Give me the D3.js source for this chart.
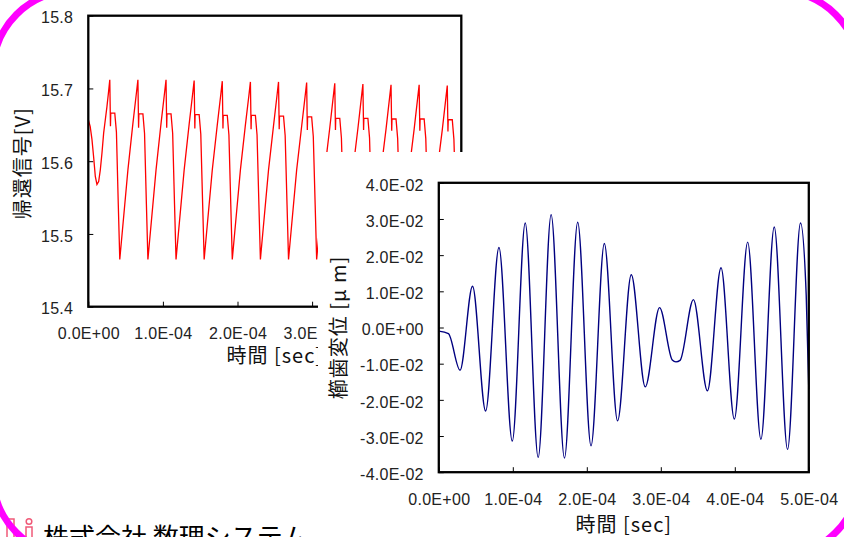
<!DOCTYPE html>
<html lang="ja">
<head>
<meta charset="UTF-8">
<title>帰還信号と櫛歯変位</title>
<script src="https://d3js.org/d3.v7.min.js"></script>
<style>
    body { margin: 0; background: #fff; }
    svg { display: block; }
    .tick text { font-family: "Liberation Sans", Arial, sans-serif; font-size: 16px; fill: #222; letter-spacing: 0.3px; }
    .title { font-family: "Noto Sans CJK JP", sans-serif; font-size: 20px; fill: #111; letter-spacing: 1px; }
</style>
</head>
<body>
<div id="chart"></div>
<script>
// time in microseconds, shown as seconds in tick labels
const timeTicks = [0, 100, 200, 300, 400, 500];
const timeLabels = ["0.0E+00", "1.0E-04", "2.0E-04", "3.0E-04", "4.0E-04", "5.0E-04"];

const voltTicks = [15.4, 15.5, 15.6, 15.7, 15.8];

const dispTicks = [-0.04, -0.03, -0.02, -0.01, 0, 0.01, 0.02, 0.03, 0.04];
const dispLabels = ["-4.0E-02", "-3.0E-02", "-2.0E-02", "-1.0E-02", "0.0E+00",
                    "1.0E-02", "2.0E-02", "3.0E-02", "4.0E-02"];

// feedback signal [time us, V]
const feedback = [
    [0, 15.657], [2.5, 15.648], [4.9, 15.630], [7.2, 15.605], [9.4, 15.579], [11.6, 15.568],
    [13.9, 15.572], [16.1, 15.588], [18.3, 15.611], [20.6, 15.639], [22.8, 15.657], [25.0, 15.675],
    [27.0, 15.694], [28.8, 15.712], [29.7, 15.648], [30.1, 15.666], [35.5, 15.666], [37.7, 15.640],
    [40.2, 15.540], [42.2, 15.465],
    [53.1, 15.588], [59.8, 15.652], [64.3, 15.692], [66.5, 15.712], [67.4, 15.646], [67.8, 15.665],
    [73.2, 15.665], [75.4, 15.638], [77.9, 15.540], [79.9, 15.465],
    [90.8, 15.588], [97.5, 15.652], [102.0, 15.692], [104.2, 15.712], [105.1, 15.646], [105.5, 15.665],
    [110.9, 15.665], [113.1, 15.638], [115.6, 15.540], [117.6, 15.465],
    [128.5, 15.588], [135.2, 15.651], [139.7, 15.691], [141.9, 15.711], [142.8, 15.645], [143.2, 15.664],
    [148.6, 15.664], [150.8, 15.637], [153.3, 15.540], [155.3, 15.465],
    [166.2, 15.588], [172.9, 15.650], [177.4, 15.690], [179.6, 15.710], [180.5, 15.645], [180.9, 15.663],
    [186.3, 15.663], [188.5, 15.636], [191.0, 15.540], [193.0, 15.465],
    [203.9, 15.588], [210.6, 15.650], [215.1, 15.689], [217.3, 15.709], [218.2, 15.644], [218.6, 15.663],
    [224.0, 15.663], [226.2, 15.636], [228.7, 15.540], [230.7, 15.465],
    [241.6, 15.588], [248.3, 15.649], [252.8, 15.689], [255.0, 15.709], [255.9, 15.644], [256.3, 15.662],
    [261.7, 15.662], [263.9, 15.635], [266.4, 15.540], [268.4, 15.465],
    [279.3, 15.588], [286.0, 15.648], [290.5, 15.688], [292.7, 15.708], [293.6, 15.643], [294.0, 15.661],
    [299.4, 15.661], [301.6, 15.634], [304.1, 15.540], [306.1, 15.465],
    [317.0, 15.588], [323.7, 15.646], [328.2, 15.687], [330.4, 15.707], [331.3, 15.643], [331.7, 15.659],
    [337.1, 15.659], [339.3, 15.632], [341.8, 15.540], [343.8, 15.465],
    [354.7, 15.588], [361.4, 15.645], [365.9, 15.686], [368.1, 15.706], [369.0, 15.643], [369.4, 15.659],
    [374.8, 15.659], [377.0, 15.632], [379.5, 15.540], [381.5, 15.465],
    [392.4, 15.588], [399.1, 15.644], [403.6, 15.685], [405.8, 15.705], [406.7, 15.642], [407.1, 15.658],
    [412.5, 15.658], [414.7, 15.631], [417.2, 15.540], [419.2, 15.465],
    [430.1, 15.588], [436.8, 15.644], [441.3, 15.685], [443.5, 15.705], [444.4, 15.642], [444.8, 15.658],
    [450.2, 15.658], [452.4, 15.631], [454.9, 15.540], [456.9, 15.465],
    [467.8, 15.588], [474.5, 15.643], [479.0, 15.684], [481.2, 15.704], [482.1, 15.641], [482.5, 15.657],
    [487.9, 15.657], [490.1, 15.630], [492.6, 15.540], [494.6, 15.465],
    [500, 15.520]
];

// comb tooth displacement [time us, um] (peaks and troughs)
const displacement = [
    [0, -0.0010], [13, -0.0017], [28.7, -0.0118], [45.6, 0.0114], [63.3, -0.0231], [81.3, 0.0221],
    [99.3, -0.0314], [116.8, 0.0289], [134.3, -0.0359], [151.8, 0.0312], [169.8, -0.0361],
    [187.7, 0.0291], [205.7, -0.0327], [223.7, 0.0232], [241.6, -0.0258], [260.1, 0.0146],
    [279.0, -0.0164], [298.3, 0.0055], [315.5, -0.0090], [320.5, -0.0095], [326.0, -0.0091],
    [344.1, 0.0077], [363.0, -0.0175], [381.4, 0.0165], [399.4, -0.0253], [417.4, 0.0236],
    [435.3, -0.0309], [453.3, 0.0278], [471.3, -0.0337], [488.8, 0.0289], [496.5, 0.0090],
    [500, -0.0170]
];

const W = 844, H = 537;
const svg = d3.select("#chart").append("svg")
    .attr("width", W)
    .attr("height", H);

// where the second chart is pasted over the first one
const cover = {x: 318, y: 152};

// ---------- left chart: feedback signal ----------
const p1 = {left: 88.3, right: 461.3, top: 15.7, bottom: 306.7};
const x1 = d3.scaleLinear().domain([0, 500]).range([p1.left, p1.right]);
const y1 = d3.scaleLinear().domain([15.4, 15.8]).range([p1.bottom, p1.top]);

const g1 = svg.append("g");

g1.append("g")
    .attr("transform", `translate(${p1.left},0)`)
    .call(d3.axisLeft(y1).tickValues(voltTicks).tickFormat(d3.format(".1f"))
        .tickSize(-5).tickPadding(15))
    .call(g => g.select(".domain").remove())
    .call(g => g.selectAll(".tick text").attr("dy", "0.45em"));

g1.append("g")
    .attr("transform", `translate(0,${p1.bottom})`)
    .call(d3.axisBottom(x1).tickValues(timeTicks).tickFormat((d, i) => timeLabels[i])
        .tickSize(-5).tickPadding(21))
    .call(g => g.select(".domain").remove())
    // labels that sit fully under the pasted chart are not drawn
    .call(g => g.selectAll(".tick text").filter(d => x1(d) - 30 > cover.x).remove());

g1.append("path")
    .datum(feedback)
    .attr("fill", "none")
    .attr("stroke", "#ff0000")
    .attr("stroke-width", 1.3)
    .attr("d", d3.line().x(d => x1(d[0])).y(d => y1(d[1])));

g1.append("rect")
    .attr("x", p1.left).attr("y", p1.top)
    .attr("width", p1.right - p1.left).attr("height", p1.bottom - p1.top)
    .attr("fill", "none").attr("stroke", "#000").attr("stroke-width", 2.3);

g1.append("text")
    .attr("class", "title")
    .attr("x", (p1.left + p1.right) / 2)
    .attr("y", 363)
    .attr("text-anchor", "middle")
    .text("時間 [sec]");

g1.append("text")
    .attr("class", "title")
    .attr("transform", `translate(30,${(p1.top + p1.bottom) / 2 + 2}) rotate(-90)`)
    .attr("text-anchor", "middle")
    .text("帰還信号[V]");

svg.append("rect")
    .attr("x", cover.x).attr("y", cover.y)
    .attr("width", W - cover.x).attr("height", H - cover.y)
    .attr("fill", "#fff");

// ---------- right chart: comb displacement ----------
const p2 = {left: 438.8, right: 808.8, top: 182.8, bottom: 472.2};
const x2 = d3.scaleLinear().domain([0, 500]).range([p2.left, p2.right]);
const y2 = d3.scaleLinear().domain([-0.04, 0.04]).range([p2.bottom, p2.top]);

const g2 = svg.append("g");

g2.append("g")
    .attr("transform", `translate(${p2.left},0)`)
    .call(d3.axisLeft(y2).tickValues(dispTicks).tickFormat((d, i) => dispLabels[i])
        .tickSize(-5).tickPadding(15))
    .call(g => g.select(".domain").remove())
    .call(g => g.selectAll(".tick text").attr("dy", "0.45em"));

g2.append("g")
    .attr("transform", `translate(0,${p2.bottom})`)
    .call(d3.axisBottom(x2).tickValues(timeTicks).tickFormat((d, i) => timeLabels[i])
        .tickSize(-5).tickPadding(21))
    .call(g => g.select(".domain").remove());

g2.append("path")
    .datum(displacement)
    .attr("fill", "none")
    .attr("stroke", "#000080")
    .attr("stroke-width", 1.4)
    .attr("d", d3.line().curve(d3.curveMonotoneX).x(d => x2(d[0])).y(d => y2(d[1])));

g2.append("rect")
    .attr("x", p2.left).attr("y", p2.top)
    .attr("width", p2.right - p2.left).attr("height", p2.bottom - p2.top)
    .attr("fill", "none").attr("stroke", "#000").attr("stroke-width", 2.3);

g2.append("text")
    .attr("class", "title")
    .attr("x", (p2.left + p2.right) / 2)
    .attr("y", 532)
    .attr("text-anchor", "middle")
    .text("時間 [sec]");

g2.append("text")
    .attr("class", "title")
    .attr("transform", `translate(346,${(p2.top + p2.bottom) / 2}) rotate(-90)`)
    .attr("text-anchor", "middle")
    .text("櫛歯変位 [μ m]");

// ---------- company footer (cut by the page edge) ----------
const logo = svg.append("g").attr("fill", "none").attr("stroke", "#f05a78").attr("stroke-width", 1.5);
logo.append("rect").attr("x", 7).attr("y", 519).attr("width", 7).attr("height", 24);
logo.append("circle").attr("cx", 29).attr("cy", 521.5).attr("r", 2.8);
logo.append("rect").attr("x", 26).attr("y", 527).attr("width", 6).attr("height", 16);

svg.append("text")
    .attr("x", 43)
    .attr("y", 547)
    .attr("font-family", "Noto Sans CJK JP, sans-serif")
    .attr("font-size", 26)
    .attr("fill", "#000")
    .text("株式会社 数理システム");

// slide frame
svg.append("rect")
    .attr("x", -7).attr("y", -9)
    .attr("width", 866).attr("height", 565)
    .attr("rx", 80).attr("ry", 80)
    .attr("fill", "none")
    .attr("stroke", "#ff00ff")
    .attr("stroke-width", 7);
</script>
</body>
</html>
